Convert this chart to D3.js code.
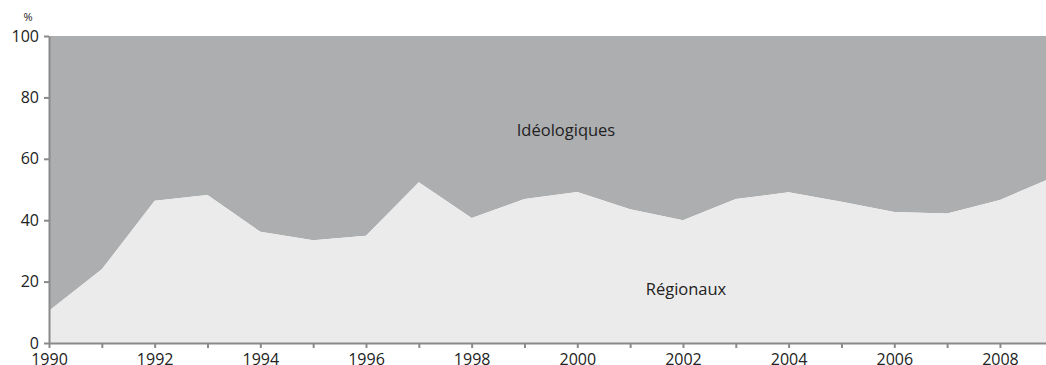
<!DOCTYPE html>
<html>
<head>
<meta charset="utf-8">
<script src="https://cdn.jsdelivr.net/npm/d3@7"></script>
<style>
  body { margin: 0; background: #fff; overflow: hidden; }
  text { font-family: "Open Sans", sans-serif; fill: #222; }
</style>
</head>
<body>
<div class="chart"></div>
<script>
// share of regional parties (%), rest is ideological
var years = [1990, 1991, 1992, 1993, 1994, 1995, 1996, 1997, 1998, 1999,
             2000, 2001, 2002, 2003, 2004, 2005, 2006, 2007, 2008, 2009];
var regionaux = [10.5, 24, 46.3, 48.2, 36.2, 33.5, 34.9, 52.4, 40.7, 46.9,
                 49.2, 43.6, 40, 46.9, 49.1, 46, 42.7, 42.2, 46.6, 54];
var yTicks = [0, 20, 40, 60, 80, 100];
var xTickLabels = [1990, 1992, 1994, 1996, 1998, 2000, 2002, 2004, 2006, 2008];

var width = 1046, height = 365;
var margin = { top: 36, left: 49, bottom: 22 };

var svg = d3.select(".chart").append("svg")
  .attr("width", width)
  .attr("height", height);

var x = d3.scaleLinear().domain([1990, 2009]).range([margin.left, margin.left + 52.83 * 19]);
var y = d3.scaleLinear().domain([0, 100]).range([height - margin.bottom, margin.top]);

var data = years.map(function(d, i) { return { year: d, reg: regionaux[i] }; });

// ideological area (top)
svg.append("path")
  .datum(data)
  .attr("fill", "#adaeb0")
  .attr("d", d3.area()
    .x(function(d) { return x(d.year); })
    .y0(function(d) { return y(d.reg); })
    .y1(y(100)));

// regional area (bottom)
svg.append("path")
  .datum(data)
  .attr("fill", "#ebebeb")
  .attr("d", d3.area()
    .x(function(d) { return x(d.year); })
    .y0(y(0))
    .y1(function(d) { return y(d.reg); }));

// y axis
var yAxis = svg.append("g")
  .attr("transform", "translate(" + margin.left + ",0)")
  .call(d3.axisLeft(y).tickValues(yTicks).tickSize(5).tickPadding(5).tickSizeOuter(0));
yAxis.select(".domain").attr("stroke", "#8a8a8a").attr("stroke-width", 2);
yAxis.selectAll(".tick line").attr("stroke", "#8a8a8a").attr("stroke-width", 2);
yAxis.selectAll(".tick text").style("font-size", "16px").attr("fill", "#222");

// x axis
var xAxis = svg.append("g")
  .attr("transform", "translate(0," + y(0) + ")")
  .call(d3.axisBottom(x).tickValues(d3.range(1990, 2010)).tickSize(5).tickPadding(6).tickSizeOuter(0)
    .tickFormat(function(d) { return xTickLabels.indexOf(d) >= 0 ? d : ""; }));
xAxis.select(".domain").attr("stroke", "#8a8a8a").attr("stroke-width", 2);
xAxis.selectAll(".tick line").attr("stroke", "#8a8a8a").attr("stroke-width", 2);
xAxis.selectAll(".tick text").style("font-size", "16px").attr("fill", "#222");

svg.append("text")
  .attr("x", 28).attr("y", 21)
  .attr("text-anchor", "middle")
  .style("font-size", "11px")
  .text("%");

svg.append("text")
  .attr("x", 566).attr("y", 136)
  .attr("text-anchor", "middle")
  .style("font-size", "16.5px")
  .text("Idéologiques");

svg.append("text")
  .attr("x", 686).attr("y", 295)
  .attr("text-anchor", "middle")
  .style("font-size", "16.5px")
  .text("Régionaux");
</script>
</body>
</html>
